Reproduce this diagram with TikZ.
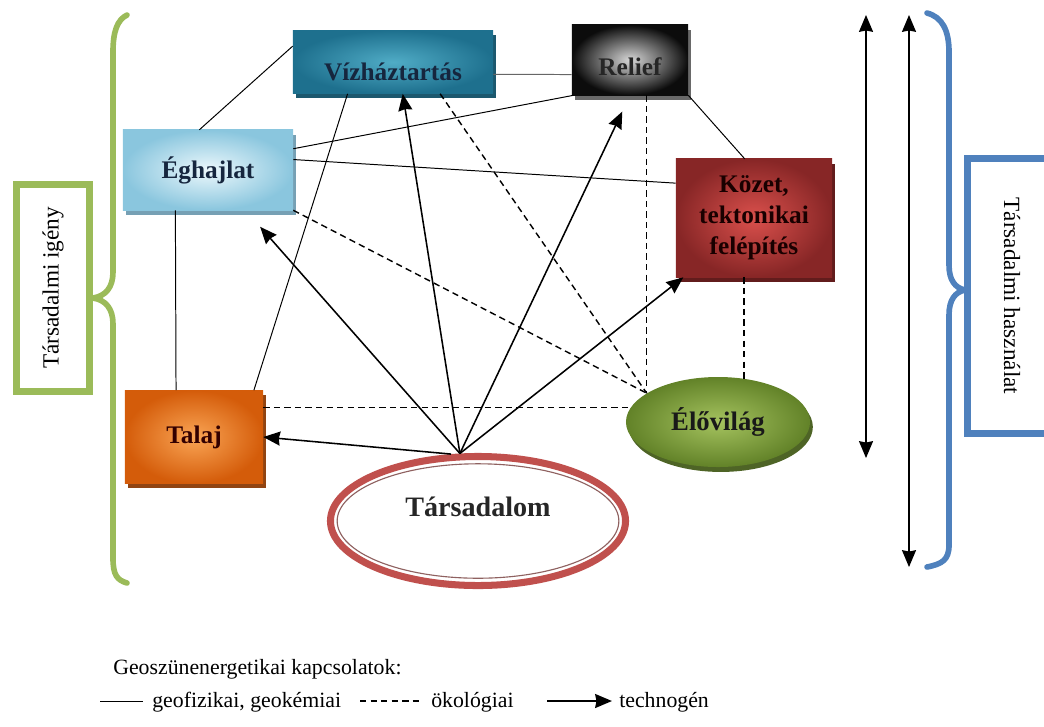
\documentclass[tikz,border=0pt]{standalone}
\usepackage{fontspec}
\setmainfont{Liberation Serif}
\usepackage{tikz}
\usetikzlibrary{shapes,arrows.meta,positioning,shadows,calc}

\definecolor{vizhOut}{RGB}{30,112,142}
\definecolor{vizhIn}{RGB}{80,172,198}
\definecolor{vizhShd}{RGB}{28,88,110}
\definecolor{vizhTxt}{RGB}{22,38,62}
\definecolor{relOut}{RGB}{12,12,12}
\definecolor{relIn}{RGB}{215,215,215}
\definecolor{relShd}{RGB}{105,105,105}
\definecolor{eghOut}{RGB}{138,198,222}
\definecolor{eghIn}{RGB}{236,248,252}
\definecolor{eghShd}{RGB}{118,160,180}
\definecolor{kozOut}{RGB}{135,38,38}
\definecolor{kozIn}{RGB}{218,80,76}
\definecolor{kozShd}{RGB}{98,28,28}
\definecolor{talOut}{RGB}{212,92,10}
\definecolor{talIn}{RGB}{250,165,85}
\definecolor{talShd}{RGB}{145,68,18}
\definecolor{eloOut}{RGB}{98,130,40}
\definecolor{eloIn}{RGB}{165,195,95}
\definecolor{eloShd}{RGB}{78,100,38}
\definecolor{tarsRed}{RGB}{192,80,77}
\definecolor{igenyGreen}{RGB}{155,187,89}
\definecolor{hasznBlue}{RGB}{79,129,189}

\begin{document}
\begin{tikzpicture}[
    x=0.025cm, y=-0.025cm,
    box/.style={rectangle, inner sep=0pt, align=center, font=\fontsize{18}{22}\selectfont\bfseries,
        drop shadow={shadow xshift=2pt, shadow yshift=-3.5pt, fill=#1, opacity=1}},
    sidebox/.style={rectangle, draw=#1, line width=5pt, fill=white, inner sep=0pt, font=\fontsize{16.5}{18}\selectfont},
    legend/.style={inner sep=0pt, font=\fontsize{15.5}{18}\selectfont},
    geoline/.style={line width=0.7pt},
    ecoline/.style={dash pattern=on 4.5pt off 3pt, line width=1pt},
    techarrow/.style={-{Stealth[length=12pt,width=10pt,inset=1pt]}, line width=1.1pt},
    dblarrow/.style={{Stealth[length=12pt,width=10pt,inset=1pt]}-{Stealth[length=12pt,width=10pt,inset=1pt]}, line width=0.9pt},
    brace/.style={line width=4pt, line cap=round}
]
\useasboundingbox (0,0) rectangle (1044,726);
\clip (0,0) rectangle (1044,726);

% Side brackets
\draw[brace, igenyGreen] (127,15) .. controls (117,20) and (113,32) .. (113,52) -- (113,272)
    .. controls (113,287) and (106,296) .. (93,298) .. controls (106,300) and (113,309) .. (113,324)
    -- (113,558) .. controls (113,575) and (117,580) .. (127,583);
\draw[brace, hasznBlue] (927,13) .. controls (942,17) and (949,30) .. (949,52) -- (949,265)
    .. controls (949,280) and (955,288) .. (965,290) .. controls (955,292) and (949,300) .. (949,315)
    -- (949,545) .. controls (949,560) and (942,564) .. (927,567);

\node[sidebox=igenyGreen, rotate=90, minimum width=5.175cm, minimum height=1.825cm] (igeny) at (53,288) {Társadalmi igény};
\node[sidebox=hasznBlue, rotate=-90, minimum width=6.875cm, minimum height=2.225cm] (haszn) at (1012,296) {Társadalmi használat};

\coordinate (fel1) at (866,15);
\coordinate (le1) at (866,458);
\coordinate (fel2) at (909,15);
\coordinate (le2) at (909,567);
\draw[dblarrow] (le1) -- (fel1);
\draw[dblarrow] (le2) -- (fel2);

% Geosystem components
\node[box=vizhShd, inner color=vizhIn, outer color=vizhOut, text=vizhTxt, minimum width=5cm, minimum height=1.575cm] (vizh) at (393,62) {\raisebox{-7pt}[\height][\depth]{Vízháztartás}};
\node[box=relShd, inner color=relIn, outer color=relOut, text=black!85, minimum width=2.9cm, minimum height=1.75cm] (relief) at (630,60) {\raisebox{-5pt}[\height][\depth]{Relief}};
\node[box=eghShd, inner color=eghIn, outer color=eghOut, text=vizhTxt, minimum width=4.25cm, minimum height=2cm] (egh) at (208,170) {Éghajlat};
\node[box=kozShd, inner color=kozIn, outer color=kozOut, text=black!90!red, minimum width=3.9cm, minimum height=2.95cm] (kozet) at (754,218) {Közet,\\tektonikai\\felépítés};
\node[box=talShd, inner color=talIn, outer color=talOut, text=black!80!red, minimum width=3.45cm, minimum height=2.325cm] (talaj) at (194,437) {Talaj};
\node[box=eloShd, ellipse, inner color=eloIn, outer color=eloOut, text=black!90, font=\fontsize{19}{22}\selectfont\bfseries, minimum width=4.6cm, minimum height=2.25cm] (elo) at (718,422) {Élővilág};

% Society
\node[ellipse, draw=tarsRed, line width=5pt, fill=white, inner sep=0pt, font=\fontsize{20}{22}\selectfont\bfseries, text=black!85, minimum width=7.375cm, minimum height=3.225cm] (tars) at (478,521) {\raisebox{10pt}[\height][\depth]{Társadalom}};
\draw[tarsRed!55!black!75, line width=0.8pt] (tars.center) ellipse [x radius=3.52cm, y radius=1.43cm];

% geofizikai, geokemiai
\draw[geoline] (egh.102) -- (vizh.171);
\draw[geoline, black!60] (vizh.-7) -- (relief.194);
\draw[geoline] (egh.14) -- (relief.212);
\draw[geoline] (egh.7) -- (kozet.156);
\draw[geoline] (relief.south east) -- (kozet.99);
\draw[geoline] (vizh.215) -- (talaj.38);
\draw[geoline] (egh.231) -- (talaj.111);

% okologiai
\draw[ecoline] (vizh.-34) -- (elo.158);
\draw[ecoline] (egh.south east) -- (elo.158);
\draw[ecoline] (elo.158 |- relief.south) -- (elo.158);
\draw[ecoline] (talaj.23) -- (talaj.23 -| elo.170);
\draw[ecoline] (elo.59 |- kozet.south) -- (elo.59);

% technogen
\draw[techarrow] (tars.112) -- (talaj.east);
\draw[techarrow, shorten >=0.55cm] (tars.105) -- (egh.-47);
\draw[techarrow] (tars.105) -- (vizh.-73);
\draw[techarrow, shorten >=0.45cm] (tars.105) -- (relief.south);
\draw[techarrow] (tars.105) -- (kozet.220);

% Legend
\node[legend, anchor=base west] (legcim) at (113,674) {Geoszünenergetikai kapcsolatok:};
\node[legend, anchor=base west] (leggeo) at (152,707) {geofizikai, geokémiai};
\node[legend, anchor=base west] (legeco) at (431,707) {ökológiai};
\node[legend, anchor=base west] (legtech) at (619,707) {technogén};
\coordinate (lg1) at (100,701);
\coordinate (lg2) at (360,701);
\coordinate (lg3) at (547,701);
\draw[geoline, shorten >=6.4pt] (lg1) -- (lg1 -| leggeo.west);
\draw[ecoline, shorten >=6.4pt] (lg2) -- (lg2 -| legeco.west);
\draw[techarrow, shorten >=5pt] (lg3) -- (lg3 -| legtech.west);

\end{tikzpicture}
\end{document}
